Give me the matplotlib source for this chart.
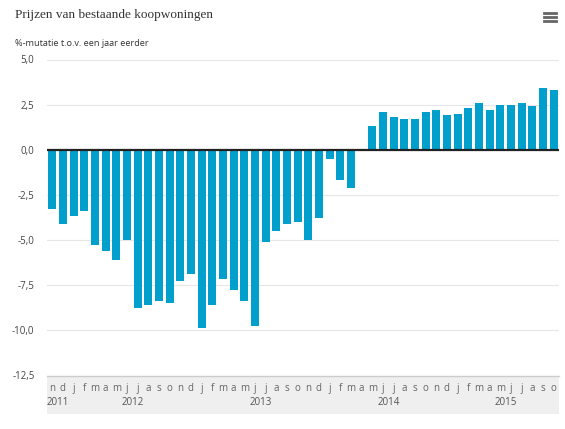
import numpy as np
import matplotlib
matplotlib.use("Agg")
import matplotlib.pyplot as plt

# ---- data ----
months = ["n", "d",
          "j", "f", "m", "a", "m", "j", "j", "a", "s", "o", "n", "d",
          "j", "f", "m", "a", "m", "j", "j", "a", "s", "o", "n", "d",
          "j", "f", "m", "a", "m", "j", "j", "a", "s", "o", "n", "d",
          "j", "f", "m", "a", "m", "j", "j", "a", "s", "o"]
years = ["2011", "2012", "2013", "2014", "2015"]
months_per_year = [2, 12, 12, 12, 10]
values = [-3.3, -4.1,
          -3.7, -3.4, -5.3, -5.6, -6.1, -5.0, -8.8, -8.6, -8.4, -8.5, -7.3, -6.9,
          -9.9, -8.6, -7.2, -7.8, -8.4, -9.8, -5.1, -4.5, -4.1, -4.0, -5.0, -3.8,
          -0.5, -1.7, -2.1, 0.0, 1.3, 2.1, 1.8, 1.7, 1.7, 2.1, 2.2, 1.9,
          2.0, 2.3, 2.6, 2.2, 2.5, 2.5, 2.6, 2.4, 3.4, 3.3]
yticks = [5.0, 2.5, 0.0, -2.5, -5.0, -7.5, -10.0, -12.5]
ytick_labels = ["5,0", "2,5", "0,0", "-2,5", "-5,0", "-7,5", "-10,0", "-12,5"]
title = "Prijzen van bestaande koopwoningen"
subtitle = "%-mutatie t.o.v. een jaar eerder"

W, H = 565, 429
fig = plt.figure(figsize=(W / 100, H / 100), dpi=100)
fig.patch.set_facecolor("white")

x = np.arange(len(values))
left_px, right_px = 47, 559
top_px, bot_px = 59.5, 375
ax = fig.add_axes([left_px / W, 1 - bot_px / H, (right_px - left_px) / W, (bot_px - top_px) / H])
ax.bar(x, values, width=0.76, color="#009fcc", zorder=2)
ax.set_xlim(-0.5, len(values) - 0.5)
ax.set_ylim(-12.5, 5.0)
ax.set_yticks(yticks)
ax.set_yticklabels(ytick_labels, fontsize=7, color="#444444", family="Open Sans")
ax.tick_params(axis="y", length=0, pad=9)
ax.set_xticks([])
ax.grid(axis="y", color="#e6e6e6", linewidth=0.8, zorder=0)
ax.axhline(0, color="#222222", linewidth=1.6, zorder=3)
for s in ax.spines.values():
    s.set_visible(False)

# x-axis band
band_top, band_bot = 376, 414
bx = fig.add_axes([left_px / W, 1 - band_bot / H, (right_px - left_px) / W, (band_bot - band_top) / H])
bx.set_facecolor("#efefef")
bx.set_xlim(ax.get_xlim())
bx.set_ylim(0, 1)
bx.set_xticks([])
bx.set_yticks([])
for k, s in bx.spines.items():
    s.set_visible(k == "top")
bx.spines["top"].set_color("#cccccc")
bx.spines["top"].set_linewidth(1.0)
for i, m in enumerate(months):
    bx.text(x[i], 0.68, m, ha="center", va="center", fontsize=7,
            color="#666666", family="Open Sans")
start = 0
for yr, n in zip(years, months_per_year):
    c = start + (n - 1) / 2
    bx.text(c, 0.3, yr, ha="center", va="center", fontsize=7,
            color="#555555", family="Open Sans")
    start += n

# titles
fig.text(15 / W, 1 - 15 / H, title, ha="left", va="center", fontsize=9.5,
         family="Liberation Serif", color="#333333")
fig.text(15 / W, 1 - 44 / H, subtitle, ha="left", va="center", fontsize=6.6,
         family="Open Sans", color="#333333")

# menu icon
for yy in (12.5, 16.5, 20.5):
    fig.add_artist(plt.Line2D([544 / W, 556 / W], [1 - yy / H, 1 - yy / H],
                              color="#666666", linewidth=2.0))

fig.savefig("out.png", dpi=100, facecolor="white")
